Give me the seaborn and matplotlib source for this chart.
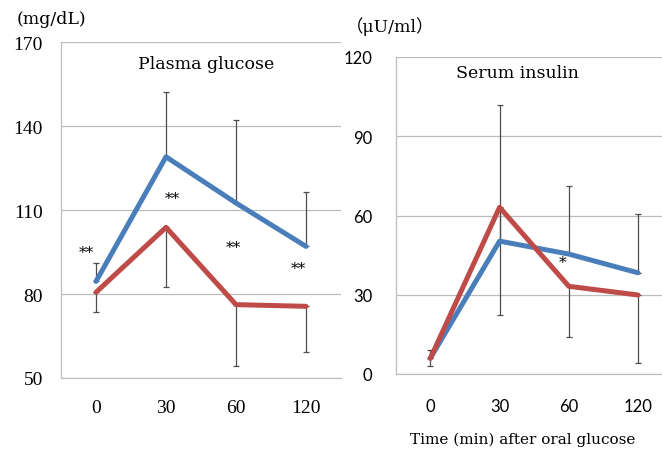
import numpy as np
import pandas as pd
import matplotlib
matplotlib.use("Agg")
import matplotlib.pyplot as plt
import seaborn as sns

# values
times = ["0", "30", "60", "120"]

glu_blue = [84.5, 129.0, 112.5, 97.0]
glu_blue_sd = [6.5, 23.0, 29.5, 19.5]
glu_red = [80.6, 103.8, 76.2, 75.6]
glu_red_sd = [7.0, 21.4, 22.0, 16.4]
glu_marks = ["**", "**", "**", "**"]
glu_mark_y = [95.0, 114.3, 96.8, 89.3]
glu_mark_dx = [-0.14, 0.09, -0.04, -0.11]

ins_blue = [6.0, 50.3, 45.4, 38.3]
ins_blue_sd = [3.2, 51.7, 25.6, 22.4]
ins_red = [5.9, 63.1, 33.2, 29.9]
ins_red_sd = [2.8, 40.9, 19.3, 25.7]
ins_marks = ["", "", "*", ""]
ins_mark_y = [0, 0, 42.4, 0]
ins_mark_dx = [0, 0, -0.09, 0]

BLUE = "#4a7ebb"
RED = "#be4b48"
GRID = "#bdbdbd"
SERIF = ["DejaVu Serif", "Noto Sans CJK JP"]

sns.set_style("white")
plt.rcParams["font.family"] = SERIF
plt.rcParams["text.color"] = "black"

pos = np.arange(len(times))


def panel(ax, blue, blue_sd, red, red_sd, marks, mark_y, mark_dx, yticks, tickfont, tsize):
    df = pd.DataFrame({
        "pos": np.concatenate([pos, pos]),
        "value": blue + red,
        "group": ["a"] * len(times) + ["b"] * len(times),
    })
    ax.errorbar(pos, blue, yerr=[np.zeros(len(pos)), blue_sd], fmt="none",
                ecolor="#4d4d4d", elinewidth=0.9, capsize=2.5, capthick=0.9, zorder=2)
    ax.errorbar(pos, red, yerr=[red_sd, np.zeros(len(pos))], fmt="none",
                ecolor="#4d4d4d", elinewidth=0.9, capsize=2.5, capthick=0.9, zorder=2)
    sns.lineplot(data=df, x="pos", y="value", hue="group", palette=[BLUE, RED],
                 lw=3.6, legend=False, ax=ax, solid_capstyle="round", zorder=3)
    for i, m in enumerate(marks):
        if m:
            ax.text(pos[i] + mark_dx[i], mark_y[i], m, ha="center", va="center",
                    fontsize=11, family=SERIF, zorder=4)
    ax.set_xlim(-0.5, len(times) - 0.5)
    ax.set_ylim(yticks[0], yticks[-1])
    ax.set_yticks(yticks)
    ax.set_xticks(pos)
    ax.set_xticklabels(times)
    ax.set_xticks(np.arange(len(times) + 1) - 0.5, minor=True)
    ax.set_xlabel("")
    ax.set_ylabel("")
    ax.grid(axis="y", color=GRID, lw=0.9)
    ax.set_axisbelow(True)
    for s in ["top", "right"]:
        ax.spines[s].set_visible(False)
    for s in ["left", "bottom"]:
        ax.spines[s].set_color(GRID)
        ax.spines[s].set_linewidth(0.9)
    ax.tick_params(axis="x", which="major", length=0, labelsize=tsize, labelcolor="black")
    ax.tick_params(axis="x", which="minor", length=5, color=GRID, width=0.9, direction="out")
    ax.tick_params(axis="y", labelsize=tsize, color=GRID, width=0.9, direction="out",
                   labelcolor="black")
    for lab in ax.get_xticklabels() + ax.get_yticklabels():
        lab.set_family(tickfont)


fig = plt.figure(figsize=(6.62, 4.52), dpi=100)
ax1 = fig.add_axes([61 / 662, 1 - 379 / 452, 280 / 662, 336 / 452])
ax2 = fig.add_axes([395.7 / 662, 1 - 375 / 452, 277 / 662, 317 / 452])

panel(ax1, glu_blue, glu_blue_sd, glu_red, glu_red_sd, glu_marks, glu_mark_y, glu_mark_dx,
      [50, 80, 110, 140, 170], "Liberation Serif", 14)
ax1.tick_params(axis="y", length=7, pad=6)
ax1.tick_params(axis="x", which="major", pad=15)

panel(ax2, ins_blue, ins_blue_sd, ins_red, ins_red_sd, ins_marks, ins_mark_y, ins_mark_dx,
      [0, 30, 60, 90, 120], "Lato", 12)
ax2.tick_params(axis="y", length=5, pad=12)
ax2.tick_params(axis="x", which="major", pad=17)

ax1.text(0.52, 0.935, "Plasma glucose", transform=ax1.transAxes, ha="center", va="center",
         fontsize=12.5)
ax2.text(0.44, 0.95, "Serum insulin", transform=ax2.transAxes, ha="center", va="center",
         fontsize=12.5)

fig.text(17 / 662, 1 - 20 / 452, "(mg/dL)", ha="left", va="center", fontsize=12.5)
fig.text(346 / 662, 1 - 27 / 452, "（μU/ml）", ha="left", va="center", fontsize=12.5,
         family=SERIF)
fig.text(523 / 662, 1 - 440 / 452, "Time (min) after oral glucose", ha="center",
         va="center", fontsize=11)

fig.savefig("out.png", dpi=100, facecolor="white")
